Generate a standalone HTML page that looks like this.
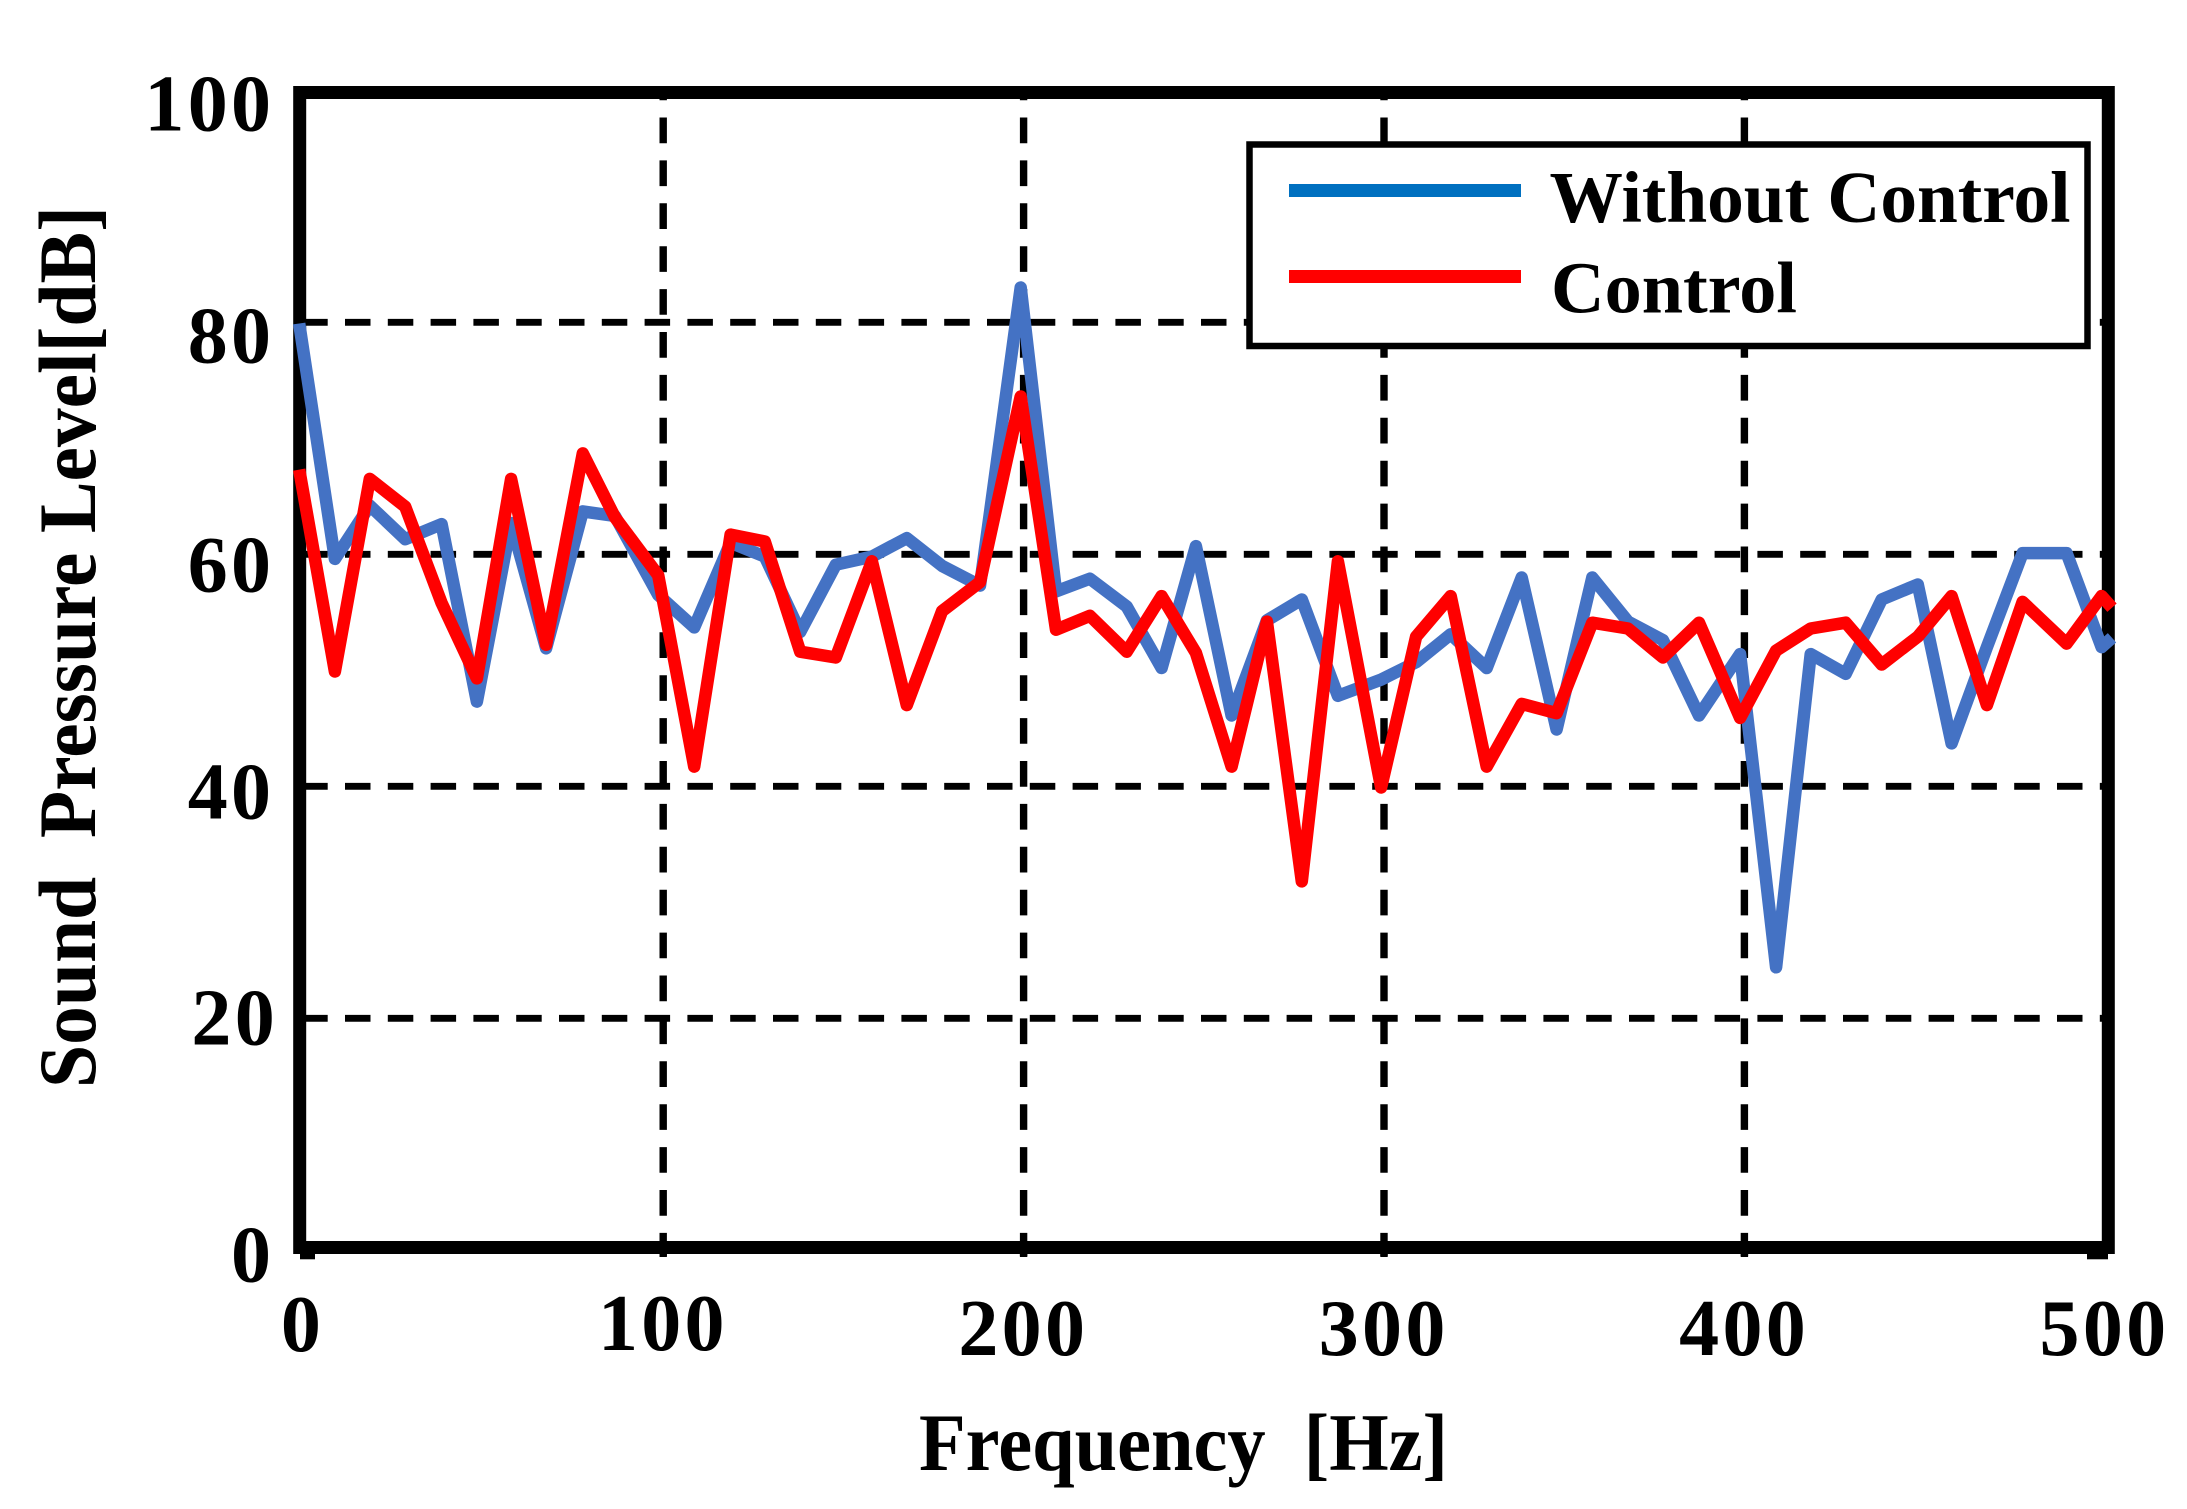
<!DOCTYPE html>
<html lang="en">
<head>
<meta charset="utf-8">
<title>Sound Pressure Level vs Frequency</title>
<style>
html,body{margin:0;padding:0;background:#fff;}
body{width:2187px;height:1509px;overflow:hidden;}
svg{display:block;}
text{font-family:"Liberation Serif",serif;font-weight:bold;fill:#000;white-space:pre;}
</style>
</head>
<body>
<svg id="chart" xmlns="http://www.w3.org/2000/svg" width="2187" height="1509" viewBox="0 0 2187 1509">
  <rect x="0" y="0" width="2187" height="1509" fill="#fff"/>
  <g id="grid"></g>
  <rect x="299.7" y="92.5" width="1808.6" height="1155" fill="none" stroke="#000" stroke-width="13"/>
  <rect x="300" y="1250" width="15" height="9.3" fill="#000"/>
  <rect x="2087" y="1250" width="21" height="9.3" fill="#000"/>
  <g id="yLabels"></g>
  <g id="xLabels"></g>
  <g id="series"></g>
  <text transform="translate(95,1088) rotate(-90)" font-size="82" textLength="882" lengthAdjust="spacingAndGlyphs">Sound  Pressure Level[dB]</text>
  <text x="919" y="1470" font-size="82" textLength="529" lengthAdjust="spacingAndGlyphs">Frequency  [Hz]</text>
  <g>
    <rect x="1249.5" y="144.5" width="838" height="201.5" fill="#fff" stroke="#000" stroke-width="6.5"/>
    <rect x="1289" y="184" width="232" height="13" fill="#0070c0"/>
    <text x="1549.5" y="222" font-size="73" textLength="521" lengthAdjust="spacingAndGlyphs">Without Control</text>
    <rect x="1289" y="270" width="232" height="13" fill="#ff0000"/>
    <text x="1551" y="312.5" font-size="73" textLength="246" lengthAdjust="spacingAndGlyphs">Control</text>
  </g>
</svg>
<script>
const frequencies = [-1.0,8.9,18.6,28.4,38.5,48.3,57.8,67.5,77.7,86.6,98.6,108.6,118.7,128.2,138.0,147.9,157.9,167.6,177.4,187.9,199.2,209.0,218.4,228.6,238.3,247.8,257.7,267.5,277.2,287.2,299.2,308.9,318.5,328.5,338.2,347.9,357.8,367.7,377.4,387.4,398.8,408.8,418.4,428.1,438.1,448.1,457.5,467.3,477.2,489.4,499.1,502.0];
const withoutControl = [79.9,59.6,64.2,61.3,62.6,47.3,62.7,51.9,63.7,63.3,56.5,53.7,61.0,59.8,53.3,59.1,59.8,61.4,59.0,57.3,83.0,56.8,57.9,55.5,50.2,60.7,46.1,54.3,56.1,47.8,49.2,50.7,53.1,50.2,58.0,44.9,58.0,54.2,52.6,46.1,51.4,24.4,51.4,49.7,56.1,57.4,43.7,52.0,60.1,60.1,52.0,52.8];
const control = [67.3,49.9,66.5,64.1,55.8,49.3,66.5,52.2,68.7,63.2,58.2,41.7,61.7,61.1,51.6,51.1,59.4,47.0,55.1,57.6,73.6,53.5,54.7,51.6,56.4,51.5,41.7,54.2,31.8,59.4,39.9,52.9,56.4,41.7,47.1,46.3,54.1,53.6,51.1,54.1,45.9,51.7,53.6,54.1,50.5,52.9,56.4,47.0,55.9,52.3,56.4,55.4];
const xTicks = [0,100,200,300,400,500];
const yTicks = [0,20,40,60,80,100];
const xGridValues = [100,200,300,400];
const yGridValues = [20,40,60,80];

function xScale(f){ return 302.8 + 3.604 * f; }
function yScale(v){ return 1250.3 - 11.6 * v; }

const NS = 'http://www.w3.org/2000/svg';
const gridGroup = document.getElementById('grid');
const seriesGroup = document.getElementById('series');
const yLabelGroup = document.getElementById('yLabels');
const xLabelGroup = document.getElementById('xLabels');

yGridValues.forEach(function(v){
  const line = document.createElementNS(NS, 'line');
  
  
  line.setAttribute('x1', 302.2);
  line.setAttribute('x2', 2104);
  line.setAttribute('y1', yScale(v));
  line.setAttribute('y2', yScale(v));
  line.setAttribute('stroke', '#000');
  line.setAttribute('stroke-width', 6.8);
  line.setAttribute('stroke-dasharray', '25.5 17.3');
  gridGroup.appendChild(line);
});

xGridValues.forEach(function(f){
  const line = document.createElementNS(NS, 'line');
  
  
  line.setAttribute('x1', xScale(f));
  line.setAttribute('x2', xScale(f));
  line.setAttribute('y1', 92);
  line.setAttribute('y2', 1256);
  line.setAttribute('stroke', '#000');
  line.setAttribute('stroke-width', 7.4);
  line.setAttribute('stroke-dasharray', '25.7 17.2');
  line.setAttribute('stroke-dashoffset', 17.4);
  gridGroup.appendChild(line);
  const stub = document.createElementNS(NS, 'line');
  
  
  stub.setAttribute('x1', xScale(f));
  stub.setAttribute('x2', xScale(f));
  stub.setAttribute('y1', 1245);
  stub.setAttribute('y2', 1257);
  stub.setAttribute('stroke', '#000');
  stub.setAttribute('stroke-width', 7.4);
  gridGroup.appendChild(stub);
});

function seriesPoints(values){
  return values.map(function(v, i){
    return xScale(frequencies[i]).toFixed(1) + ',' + yScale(v).toFixed(1);
  }).join(' ');
}

const blueLine = document.createElementNS(NS, 'polyline');


blueLine.setAttribute('points', seriesPoints(withoutControl));
blueLine.setAttribute('fill', 'none');
blueLine.setAttribute('stroke', '#4472c4');
blueLine.setAttribute('stroke-width', 12.5);
blueLine.setAttribute('stroke-linejoin', 'round');
seriesGroup.appendChild(blueLine);

const redLine = document.createElementNS(NS, 'polyline');


redLine.setAttribute('points', seriesPoints(control));
redLine.setAttribute('fill', 'none');
redLine.setAttribute('stroke', '#ff0000');
redLine.setAttribute('stroke-width', 12.5);
redLine.setAttribute('stroke-linejoin', 'round');
seriesGroup.appendChild(redLine);

const yLabelNudge = {0:31, 20:26, 40:32, 60:37, 80:40, 100:40};
yTicks.forEach(function(v){
  const label = document.createElementNS(NS, 'text');
  
  
  label.setAttribute('x', v === 20 ? 278 : 274.3);
  label.setAttribute('y', yScale(v) + yLabelNudge[v]);
  label.setAttribute('text-anchor', 'end');
  label.setAttribute('font-size', 80);
  label.setAttribute('letter-spacing', 3.3);
  label.textContent = String(v);
  yLabelGroup.appendChild(label);
});

const xLabelBaseline = {0:1351, 100:1350, 200:1355, 300:1355, 400:1355, 500:1355};
xTicks.forEach(function(f){
  const label = document.createElementNS(NS, 'text');
  
  
  label.setAttribute('x', xScale(f) - 0.3);
  label.setAttribute('y', xLabelBaseline[f]);
  label.setAttribute('text-anchor', 'middle');
  label.setAttribute('font-size', 80);
  label.setAttribute('letter-spacing', 3.3);
  label.textContent = String(f);
  xLabelGroup.appendChild(label);
});
</script>
</body>
</html>
